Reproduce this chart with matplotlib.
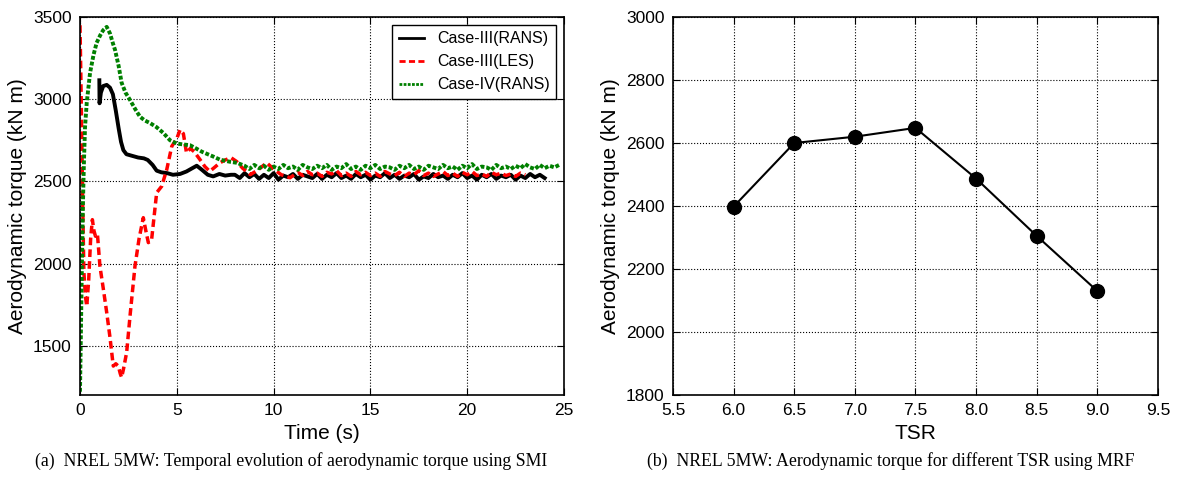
import matplotlib
matplotlib.use('Agg')
import matplotlib.pyplot as plt

plt.rcParams['font.family'] = ['Liberation Sans', 'DejaVu Sans']

# ---- (a) temporal evolution ----
rans3_t = [1.00, 1.01, 1.08, 1.2, 1.38, 1.55, 1.7, 1.85, 2.0, 2.12, 2.24, 2.4, 2.7, 3.0, 3.3,
           3.5, 3.75, 3.96, 4.2, 4.5, 4.8, 5.17, 5.5, 5.8, 6.03, 6.3, 6.6, 6.88, 7.2, 7.5, 7.8,
           8.0, 8.25, 8.5, 8.75, 9.0, 9.25, 9.5, 9.75, 10.0, 10.25, 10.5, 10.75, 11.0, 11.25,
           11.5, 11.75, 12.0, 12.25, 12.5, 12.75, 13.0, 13.25, 13.5, 13.75, 14.0, 14.25, 14.5,
           14.75, 15.0, 15.25, 15.5, 15.75, 16.0, 16.25, 16.5, 16.75, 17.0, 17.25, 17.5, 17.75,
           18.0, 18.25, 18.5, 18.75, 19.0, 19.25, 19.5, 19.75, 20.0, 20.25, 20.5, 20.75, 21.0,
           21.25, 21.5, 21.75, 22.0, 22.25, 22.5, 22.75, 23.0, 23.25, 23.5, 23.75, 24.0]
rans3_v = [3115, 2975, 3040, 3080, 3087, 3070, 3030, 2930, 2820, 2740, 2690, 2665, 2655, 2645, 2640,
           2630, 2600, 2565, 2555, 2550, 2540, 2545, 2560, 2580, 2595, 2570, 2540, 2530, 2545, 2535, 2540,
           2540, 2520, 2550, 2525, 2545, 2515, 2540, 2520, 2550, 2510, 2535, 2525, 2545, 2515,
           2540, 2530, 2520, 2545, 2515, 2540, 2525, 2550, 2520, 2535, 2515, 2545, 2525,
           2540, 2510, 2535, 2525, 2550, 2520, 2540, 2515, 2535, 2525, 2545, 2510, 2530,
           2520, 2545, 2525, 2535, 2515, 2540, 2525, 2550, 2520, 2535, 2510, 2540, 2525,
           2545, 2515, 2535, 2525, 2540, 2510, 2535, 2520, 2545, 2525, 2540, 2520]

les3_t = [0.0, 0.05, 0.1, 0.15, 0.2, 0.28, 0.35, 0.45, 0.55, 0.64, 0.72, 0.8, 0.9, 1.03, 1.2,
          1.38, 1.55, 1.72, 1.85, 1.98, 2.08, 2.15, 2.25, 2.41, 2.6, 2.84, 3.05, 3.27, 3.4, 3.53,
          3.7, 3.96, 4.22, 4.48, 4.74, 5.0, 5.17, 5.34, 5.5, 5.7, 5.9, 6.2, 6.45, 6.7, 6.95, 7.23,
          7.5, 7.8, 8.1, 8.4, 8.8, 9.2, 9.64, 10.0, 10.4, 10.85, 11.25, 11.5, 11.75, 12.0, 12.25,
          12.5, 12.75, 13.0, 13.25, 13.5, 13.75, 14.0, 14.25, 14.5, 14.75, 15.0, 15.25, 15.5,
          15.75, 16.0, 16.25, 16.5, 16.75, 17.0, 17.25, 17.5, 17.75, 18.0, 18.25, 18.5, 18.75,
          19.0, 19.25, 19.5, 19.75, 20.0, 20.25, 20.5, 20.75, 21.0, 21.25, 21.5, 21.75, 22.0,
          22.25, 22.5, 22.75, 23.0]
les3_v = [3450, 3100, 2700, 2300, 1950, 1800, 1740, 1900, 2150, 2267, 2200, 2166, 2180, 1984, 1850,
          1702, 1550, 1376, 1390, 1376, 1330, 1307, 1360, 1459, 1700, 1984, 2150, 2279, 2200, 2127,
          2146, 2431, 2470, 2571, 2713, 2760, 2814, 2790, 2674, 2700, 2680, 2632, 2590, 2561, 2585, 2613,
          2630, 2644, 2620, 2580, 2541, 2570, 2613, 2575, 2540, 2522, 2555, 2535, 2560, 2540, 2550,
          2530, 2555, 2545, 2565, 2535, 2550, 2530, 2560, 2540, 2555, 2535, 2550, 2530,
          2560, 2545, 2535, 2555, 2530, 2550, 2540, 2565, 2535, 2550, 2530, 2545, 2560,
          2535, 2550, 2530, 2555, 2540, 2560, 2535, 2545, 2530, 2555, 2540, 2550, 2535,
          2545, 2530, 2550, 2540]

rans4_t = [0.0, 0.05, 0.1, 0.15, 0.2, 0.26, 0.35, 0.52, 0.7, 0.86, 1.05, 1.2, 1.38, 1.55, 1.7,
           1.81, 2.0, 2.15, 2.35, 2.58, 2.85, 3.1, 3.35, 3.6, 3.95, 4.3, 4.65, 5.0, 5.3, 5.68, 6.0,
           6.3, 6.6, 6.9, 7.23, 7.5, 7.8, 8.1, 8.5, 8.75, 9.0, 9.25, 9.5, 9.75, 10.0, 10.25, 10.5,
           10.75, 11.0, 11.25, 11.5, 11.75, 12.0, 12.25, 12.5, 12.75, 13.0, 13.25, 13.5, 13.75,
           14.0, 14.25, 14.5, 14.75, 15.0, 15.25, 15.5, 15.75, 16.0, 16.25, 16.5, 16.75, 17.0,
           17.25, 17.5, 17.75, 18.0, 18.25, 18.5, 18.75, 19.0, 19.25, 19.5, 19.75, 20.0, 20.25,
           20.5, 20.75, 21.0, 21.25, 21.5, 21.75, 22.0, 22.25, 22.5, 22.75, 23.0, 23.25, 23.5,
           23.75, 24.0, 24.25, 24.5, 24.75]
rans4_v = [1220, 1600, 2000, 2350, 2600, 2830, 2980, 3160, 3270, 3343, 3390, 3420, 3440, 3400, 3340,
           3300, 3200, 3100, 3040, 2996, 2940, 2893, 2870, 2856, 2830, 2795, 2750, 2730, 2725, 2720, 2700,
           2680, 2665, 2650, 2632, 2625, 2618, 2613, 2595, 2575, 2600, 2580, 2595, 2570, 2590, 2575, 2600,
           2580, 2590, 2570, 2600, 2585, 2575, 2595, 2580, 2600, 2570, 2590, 2580, 2605,
           2575, 2590, 2570, 2595, 2580, 2600, 2575, 2590, 2585, 2570, 2595, 2580, 2600,
           2575, 2590, 2570, 2595, 2585, 2575, 2600, 2580, 2590, 2570, 2595, 2580, 2605,
           2575, 2590, 2585, 2570, 2600, 2580, 2590, 2575, 2595, 2580, 2605, 2585, 2575,
           2600, 2580, 2595, 2585, 2600]

# ---- (b) torque vs TSR ----
tsr = [6.0, 6.5, 7.0, 7.5, 8.0, 8.5, 9.0]
torque_mrf = [2398, 2600, 2620, 2648, 2487, 2305, 2130]

fig = plt.figure(figsize=(11.78, 4.83), dpi=100)
ax1 = fig.add_axes([0.0679, 0.1822, 0.4109, 0.7826])
ax2 = fig.add_axes([0.5713, 0.1822, 0.4117, 0.7826])

ax1.plot(rans3_t, rans3_v, color='black', lw=2.8, label='Case-III(RANS)')
ax1.plot(les3_t, les3_v, color='red', lw=2.5, ls=(0, (2.2, 1.2)), label='Case-III(LES)')
ax1.plot(rans4_t, rans4_v, color='green', lw=2.8, ls=(0, (1, 0.5)), label='Case-IV(RANS)')
ax1.set_xlim(0, 25)
ax1.set_ylim(1200, 3500)
ax1.set_xticks([0, 5, 10, 15, 20, 25])
ax1.set_yticks([1500, 2000, 2500, 3000, 3500])
ax1.set_xlabel('Time (s)', fontsize=15)
ax1.set_ylabel('Aerodynamic torque (kN m)', fontsize=15)
leg = ax1.legend(loc='upper right', fontsize=11.5, handlelength=1.6, fancybox=False,
                 framealpha=1, edgecolor='black', borderaxespad=0.5)
leg.get_frame().set_linewidth(1.0)
for h in leg.get_lines():
    h.set_linewidth(2.0)

ax2.plot(tsr, torque_mrf, color='black', lw=1.5, marker='o', markersize=10)
ax2.set_xlim(5.5, 9.5)
ax2.set_ylim(1800, 3000)
ax2.set_xticks([5.5, 6.0, 6.5, 7.0, 7.5, 8.0, 8.5, 9.0, 9.5])
ax2.set_xticklabels(['5.5', '6.0', '6.5', '7.0', '7.5', '8.0', '8.5', '9.0', '9.5'])
ax2.set_yticks([1800, 2000, 2200, 2400, 2600, 2800, 3000])
ax2.set_xlabel('TSR', fontsize=15)
ax2.set_ylabel('Aerodynamic torque (kN m)', fontsize=15)

for ax in (ax1, ax2):
    ax.grid(True, color='black', ls=':', lw=0.8)
    ax.tick_params(direction='in', top=True, right=True, length=5, labelsize=12.5, pad=6)
    for s in ax.spines.values():
        s.set_linewidth(1.2)

fig.text(0.247, 0.045, '(a)  NREL 5MW: Temporal evolution of aerodynamic torque using SMI',
         family='Liberation Serif', fontsize=12.8, ha='center', va='center')
fig.text(0.756, 0.045, '(b)  NREL 5MW: Aerodynamic torque for different TSR using MRF',
         family='Liberation Serif', fontsize=12.8, ha='center', va='center')

fig.savefig('out.png', dpi=100)
